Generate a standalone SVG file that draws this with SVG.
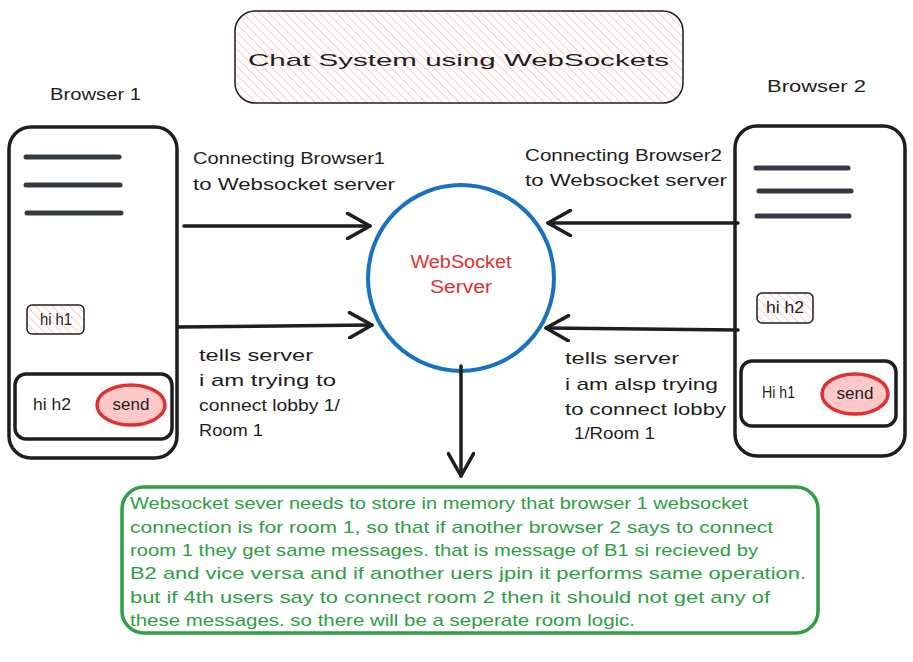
<svg xmlns="http://www.w3.org/2000/svg" width="913" height="662" viewBox="0 0 913 662">
<defs>
<pattern id="hatch" width="6" height="6" patternUnits="userSpaceOnUse" patternTransform="rotate(-45)">
<rect width="6" height="6" fill="#ffffff"/>
<line x1="0" y1="0" x2="0" y2="6" stroke="#ffc9c9" stroke-width="2"/>
</pattern>
<marker id="chev" viewBox="0 0 20 20" refX="18" refY="10" markerWidth="28" markerHeight="28" markerUnits="userSpaceOnUse" orient="auto">
<path d="M2 1 L18 10 L2 19" fill="none" stroke="#1e1e1e" stroke-width="2.5" stroke-linecap="round" stroke-linejoin="round"/>
</marker>
</defs>
<style>
.t{font-family:"Liberation Sans",Arial,sans-serif;fill:#1e1e1e;font-size:17px}
.g{font-family:"Liberation Sans",Arial,sans-serif;fill:#2f9e44;font-size:17px}
.r{font-family:"Liberation Sans",Arial,sans-serif;fill:#e03131;font-size:18px}
.box{fill:#ffffff;stroke:#1e1e1e;stroke-width:3.5}
.bar{stroke:#343a40;stroke-width:5;stroke-linecap:round}
.chip{fill:url(#hatch);stroke:#1e1e1e;stroke-width:1.5}
.send{fill:#ffc9c9;stroke:#e03131;stroke-width:3.5}
.conn{fill:none;stroke:#1e1e1e;stroke-width:3.5;stroke-linecap:round;marker-end:url(#chev)}
</style>
<rect width="913" height="662" fill="#ffffff"/>

<g id="title">
<rect x="235" y="11" width="448" height="92" rx="20" fill="url(#hatch)" stroke="#1e1e1e" stroke-width="1.5"/>
<text class="t" x="248" y="66" font-size="26" textLength="421" lengthAdjust="spacingAndGlyphs">Chat System using WebSockets</text>
</g>

<g id="browser1">
<text class="t" x="50" y="100" font-size="18" textLength="91" lengthAdjust="spacingAndGlyphs">Browser 1</text>
<rect class="box" x="9" y="127" width="168" height="331" rx="22"/>
<line class="bar" x1="26" y1="157" x2="119" y2="157"/>
<line class="bar" x1="26" y1="185" x2="120" y2="185"/>
<line class="bar" x1="27" y1="213" x2="121" y2="213"/>
<g id="b1msg">
<rect class="chip" x="27" y="305" width="57" height="29" rx="5"/>
<text class="t" x="40" y="325" font-size="14" textLength="32" lengthAdjust="spacingAndGlyphs">hi h1</text>
</g>
<rect class="box" x="15" y="374" width="157" height="65" rx="11"/>
<text class="t" x="33" y="410" font-size="14" textLength="38" lengthAdjust="spacingAndGlyphs">hi h2</text>
<ellipse class="send" cx="131" cy="405" rx="34" ry="20"/>
<text class="t" x="131" y="410" font-size="15" text-anchor="middle">send</text>
</g>

<g id="browser2">
<text class="t" x="767" y="92" font-size="18" textLength="99" lengthAdjust="spacingAndGlyphs">Browser 2</text>
<rect class="box" x="735" y="126" width="170" height="330" rx="22"/>
<line class="bar" x1="756" y1="168" x2="848" y2="168"/>
<line class="bar" x1="759" y1="191" x2="851" y2="191"/>
<line class="bar" x1="757" y1="216" x2="849" y2="216"/>
<g id="b2msg">
<rect class="chip" x="757" y="293" width="56" height="30" rx="5"/>
<text class="t" x="766" y="313" font-size="14" textLength="38" lengthAdjust="spacingAndGlyphs">hi h2</text>
</g>
<rect class="box" x="741" y="361" width="155" height="65" rx="11"/>
<text class="t" x="762" y="398" font-size="14" textLength="33" lengthAdjust="spacingAndGlyphs">Hi h1</text>
<ellipse class="send" cx="855" cy="394" rx="33" ry="20"/>
<text class="t" x="855" y="399" font-size="15" text-anchor="middle">send</text>
</g>

<g id="server">
<circle cx="461" cy="278" r="93" fill="#ffffff" stroke="#1971c2" stroke-width="4"/>
<text class="r" x="461" y="268" text-anchor="middle" textLength="101" lengthAdjust="spacingAndGlyphs">WebSocket</text>
<text class="r" x="461" y="293" text-anchor="middle" textLength="62" lengthAdjust="spacingAndGlyphs">Server</text>
</g>

<g id="connectors">
<path class="conn" d="M184 226 L370 226"/>
<path class="conn" d="M178 327 L372 325"/>
<path class="conn" d="M738 223 L548 223"/>
<path class="conn" d="M738 330 L546 328"/>
<path class="conn" d="M461 366 L461 476"/>
</g>

<g id="labels">
<text class="t" x="193" y="164" textLength="192" lengthAdjust="spacingAndGlyphs">Connecting Browser1</text>
<text class="t" x="193" y="190" textLength="202" lengthAdjust="spacingAndGlyphs">to Websocket server</text>
<text class="t" x="525" y="161" textLength="197" lengthAdjust="spacingAndGlyphs">Connecting Browser2</text>
<text class="t" x="525" y="186" textLength="202" lengthAdjust="spacingAndGlyphs">to Websocket server</text>
<text class="t" x="199" y="361" textLength="114" lengthAdjust="spacingAndGlyphs">tells server</text>
<text class="t" x="199" y="386" textLength="137" lengthAdjust="spacingAndGlyphs">i am trying to</text>
<text class="t" x="199" y="411" textLength="141" lengthAdjust="spacingAndGlyphs">connect lobby 1/</text>
<text class="t" x="199" y="436" textLength="64" lengthAdjust="spacingAndGlyphs">Room 1</text>
<text class="t" x="565" y="364" textLength="114" lengthAdjust="spacingAndGlyphs">tells server</text>
<text class="t" x="565" y="390" textLength="153" lengthAdjust="spacingAndGlyphs">i am alsp trying</text>
<text class="t" x="565" y="415" textLength="161" lengthAdjust="spacingAndGlyphs">to connect lobby</text>
<text class="t" x="574" y="439" textLength="81" lengthAdjust="spacingAndGlyphs">1/Room 1</text>
</g>

<g id="note">
<rect x="122" y="487" width="696" height="146" rx="22" fill="#ffffff" stroke="#2f9e44" stroke-width="3.5"/>
<text class="g" x="130" y="509" textLength="618" lengthAdjust="spacingAndGlyphs">Websocket sever needs to store in memory that browser 1 websocket</text>
<text class="g" x="130" y="533" textLength="643" lengthAdjust="spacingAndGlyphs">connection is for room 1, so that if another browser 2 says to connect</text>
<text class="g" x="130" y="556" textLength="628" lengthAdjust="spacingAndGlyphs">room 1 they get same messages. that is message of B1 si recieved by</text>
<text class="g" x="130" y="579" textLength="676" lengthAdjust="spacingAndGlyphs">B2 and vice versa and if another uers jpin it performs same operation.</text>
<text class="g" x="130" y="603" textLength="640" lengthAdjust="spacingAndGlyphs">but if 4th users say to connect room 2 then it should not get any of</text>
<text class="g" x="130" y="626" textLength="505" lengthAdjust="spacingAndGlyphs">these messages. so there will be a seperate room logic.</text>
</g>
</svg>
